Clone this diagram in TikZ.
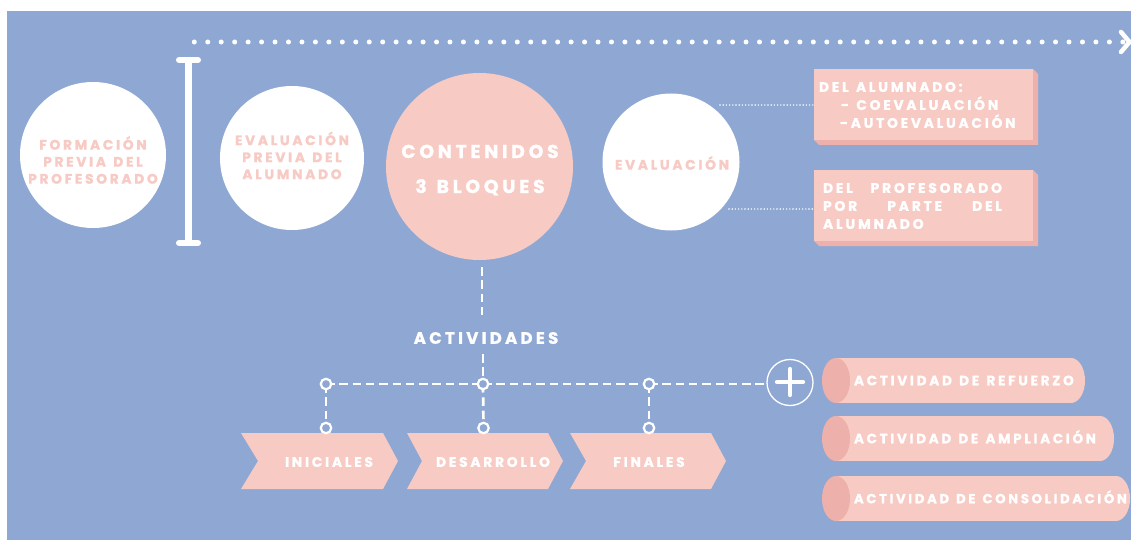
\documentclass[tikz,border=0pt]{standalone}
\usepackage{fontspec}
\setmainfont{Poppins}
\newfontfamily\pop{Poppins}[LetterSpace=20, FakeBold=1.3]
\newfontfamily\popw{Poppins}[LetterSpace=20, FakeBold=1.3, WordSpace=1.3]
\definecolor{bg}{RGB}{143,168,211}
\definecolor{pk}{RGB}{247,202,196}
\definecolor{pkd}{RGB}{237,176,170}
\begin{document}
\begin{tikzpicture}[x=1pt,y=-1pt,
  every node/.style={inner sep=0pt, outer sep=0pt},
  wcirc/.style={circle, fill=white, minimum size=#1},
  ptxt/.style={text=pk, align=center, font=\pop\bfseries\fontsize{13.7}{17}\selectfont},
  wtxt/.style={text=white, font=\pop\bfseries\fontsize{13.7}{18}\selectfont},
  cyltxt/.style={text=white, anchor=west, text height=9.6pt, text depth=0pt, font=\popw\bfseries\fontsize{#1}{17}\selectfont},
  dashc/.style={white, line width=2.7, dash pattern=on 8.5pt off 4.8pt},
  knob/.style={circle, draw=white, line width=2.2, fill=bg, minimum size=10.5},
  finedots/.style={white, line width=1.6, line cap=round, dash pattern=on 0pt off 3.2pt},
  chev/.style={fill=pk},
  shadowc/.style={fill=pkd}
]
\useasboundingbox (0,0) rectangle (1131,540);
\fill[white] (0,0) rectangle (1131,540);
\fill[bg] (7,11) rectangle (1131,540);

% top dotted arrow
\coordinate (d1) at (194.3,42);
\coordinate (d2) at (1123.3,42);
\draw[white, line width=5, line cap=round, dash pattern=on 0pt off 13.457pt] (d1) -- (d2);
\draw[white, line width=4.5, line cap=round, line join=round] (1121,32) -- (1129.5,42) -- (1121,52);

% I-beam
\draw[white, line width=7] (188,60) -- (188,243);
\draw[white, line width=6, line cap=round] (179,60) -- (198,60);
\draw[white, line width=6, line cap=round] (179,243) -- (198,243);

% circles
\node[wcirc=146] (c1) at (93,155) {};
\node[ptxt] (t1) at (93,160) {FORMACIÓN\\PREVIA DEL\\PROFESORADO};
\node[wcirc=144] (c2) at (292,158) {};
\node[ptxt] (t2) at (292,155.5) {EVALUACIÓN\\PREVIA DEL\\ALUMNADO};
\node[circle, fill=pk, minimum size=187] (c3) at (479.5,166.5) {};
\node[text=white, align=center, font=\pop\bfseries\fontsize{18.7}{35}\selectfont] (t3) at (480,170) {CONTENIDOS\\3 BLOQUES};
\node[wcirc=137] (c4) at (671,162) {};
\node[ptxt] (t4) at (672,163) {EVALUACIÓN};

% boxes
\fill[shadowc] (1033,69) -- (1038,74) -- (1038,145) -- (819,145) -- (814,140) -- cycle;
\node[fill=pk, minimum width=219, minimum height=71, anchor=north west] (b1) at (814,69) {};
\fill[shadowc] (1033,170) -- (1038,175) -- (1038,246) -- (819,246) -- (814,241) -- cycle;
\node[fill=pk, minimum width=219, minimum height=71, anchor=north west] (b2) at (814,170) {};
\node[wtxt, align=left, anchor=west, font=\pop\bfseries\fontsize{13.8}{18}\selectfont] (bt1) at (819,105) {DEL ALUMNADO:\\\hspace*{22pt}- COEVALUACIÓN\\\hspace*{21pt}-AUTOEVALUACIÓN};
\node[wtxt, align=left, anchor=west, font=\pop\bfseries\fontsize{13.9}{18}\selectfont] (bt2) at (823,206) {\hbox to 179pt{DEL\hfil PROFESORADO}\\\hbox to 179pt{POR\hfil PARTE\hfil DEL}\\ALUMNADO};

\coordinate (e1) at (720,105);
\coordinate (e2) at (729,209);
\draw[finedots] (e1) -- (e1 -| b1.west);
\draw[finedots] (e2) -- (e2 -| b2.west);

% activities
\node[text=white, font=\pop\bfseries\fontsize{16.5}{20}\selectfont] (act) at (486,338) {ACTIVIDADES};
\coordinate (v1) at (482,267);
\coordinate (v2) at (482,318);
\coordinate (v3) at (483,354);
\draw[dashc] (v1) -- (v2);

\coordinate (j1) at (326,384);
\coordinate (j2) at (483,384);
\coordinate (j3) at (649,384);
\coordinate (k1) at (326,428);
\coordinate (k2) at (483.5,428);
\coordinate (k3) at (649,428);

\node[circle, draw=white, line width=1.3, minimum size=46] (plus) at (790,382.5) {};
\draw[white, line width=4.2, line cap=round] (777,382) -- (803,382);
\draw[white, line width=4.2, line cap=round] (790,369) -- (790,395);

\draw[dashc] (v3) -- (j2);
\draw[dashc] (j1) -- (j2);
\draw[dashc] (j2) -- (j3);
\draw[dashc] (j3) -- (j3 -| plus.west);
\draw[dashc] (j1) -- (k1);
\draw[dashc] (j2) -- (k2);
\draw[dashc] (j3) -- (k3);

% chevrons
\fill[chev] (241,433) -- (383,433) -- (398,461) -- (383,489) -- (241,489) -- (258,461) -- cycle;
\fill[chev] (407,433) -- (548,433) -- (563,461) -- (548,489) -- (407,489) -- (422,461) -- cycle;
\fill[chev] (570,433) -- (711,433) -- (726,461) -- (711,489) -- (570,489) -- (586,461) -- cycle;
\node[wtxt, font=\pop\bfseries\fontsize{13.8}{17}\selectfont] (ch1) at (329,462) {INICIALES};
\node[wtxt, font=\pop\bfseries\fontsize{13.8}{17}\selectfont] (ch2) at (493,462) {DESARROLLO};
\node[wtxt, font=\pop\bfseries\fontsize{13.8}{17}\selectfont] (ch3) at (649,462) {FINALES};

\foreach \k in {j1,j2,j3,k1,k2,k3} \node[knob] at (\k) {};

% cylinders
\fill[pk] (836,358) rectangle (1071,403);
\fill[pk] (1071,380.5) ellipse [x radius=14, y radius=22.5];
\fill[pkd] (836,380.5) ellipse [x radius=14, y radius=22.5];
\node[cyltxt=13.6] (r1) at (854,380.5) {ACTIVIDAD DE REFUERZO};

\fill[pk] (836,416) rectangle (1100,461);
\fill[pk] (1100,438.5) ellipse [x radius=14, y radius=22.5];
\fill[pkd] (836,438.5) ellipse [x radius=14, y radius=22.5];
\node[cyltxt=13.5] (r2) at (854,438.5) {ACTIVIDAD DE AMPLIACIÓN};

\fill[pk] (836,476) rectangle (1116,521);
\fill[pk] (1116,498.5) ellipse [x radius=14, y radius=22.5];
\fill[pkd] (836,498.5) ellipse [x radius=14, y radius=22.5];
\node[cyltxt=13.2] (r3) at (854,498.5) {ACTIVIDAD DE CONSOLIDACIÓN};
\end{tikzpicture}
\end{document}
